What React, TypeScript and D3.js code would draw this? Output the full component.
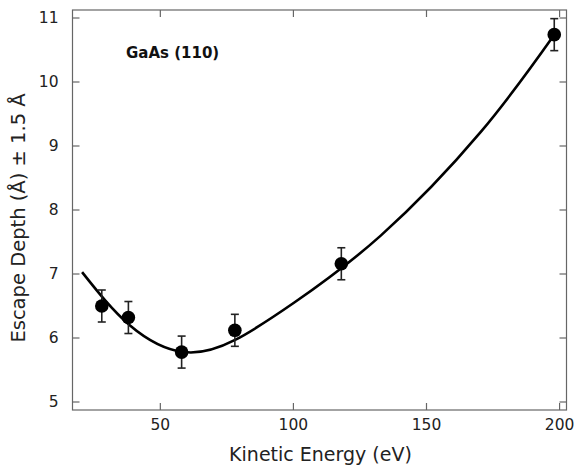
import React from "react";
import * as d3 from "d3";

const energies = [28, 38, 58, 78, 118, 198];
const depths = [6.5, 6.32, 5.78, 6.12, 7.16, 10.74];
const errors = [0.25, 0.25, 0.25, 0.25, 0.25, 0.25];

const fitEnergies = [20.6, 38.5, 58.8, 78.1, 100.2, 132.8, 170.4, 198.2];
const fitDepths = [7.03, 6.2, 5.78, 5.97, 6.55, 7.6, 9.22, 10.75];

const xTicks = [50, 100, 150, 200];
const yTicks = [5, 6, 7, 8, 9, 10, 11];

const W = 581;
const H = 469;
const left = 72.5;
const right = 566.5;
const top = 10;
const bottom = 410;

export default function App() {
  const x = d3.scaleLinear().domain([17, 202.6]).range([left, right]);
  const y = d3.scaleLinear().domain([4.875, 11.125]).range([bottom, top]);
  const line = d3
    .line<number>()
    .x((_, i) => x(fitEnergies[i]))
    .y((d) => y(d))
    .curve(d3.curveNatural);
  const font = "'DejaVu Sans', sans-serif";
  const tick = 7;
  const frame = "#666";
  return (
    <svg width={W} height={H} style={{ position: "absolute", left: 0, top: 0 }}>
      <rect x={0} y={0} width={W} height={H} fill="#fff" />
      <rect x={left} y={top} width={right - left} height={bottom - top} fill="none" stroke={frame} strokeWidth={1.2} />
      {xTicks.map((t) => (
        <g key={"x" + t}>
          <line x1={x(t)} x2={x(t)} y1={bottom} y2={bottom - tick} stroke={frame} strokeWidth={1.2} />
          <line x1={x(t)} x2={x(t)} y1={top} y2={top + tick} stroke={frame} strokeWidth={1.2} />
          <text x={x(t)} y={bottom + 20} textAnchor="middle" fontFamily={font} fontSize={15.5} fill="#222">
            {t}
          </text>
        </g>
      ))}
      {yTicks.map((t) => (
        <g key={"y" + t}>
          <line x1={left} x2={left + tick} y1={y(t)} y2={y(t)} stroke={frame} strokeWidth={1.2} />
          <line x1={right} x2={right - tick} y1={y(t)} y2={y(t)} stroke={frame} strokeWidth={1.2} />
          <text x={left - 14} y={y(t)} dy="0.35em" textAnchor="end" fontFamily={font} fontSize={15.5} fill="#222">
            {t}
          </text>
        </g>
      ))}
      <path d={line(fitDepths) || ""} fill="none" stroke="#000" strokeWidth={2.6} />
      {energies.map((e, i) => (
        <g key={"p" + i}>
          <line x1={x(e)} x2={x(e)} y1={y(depths[i] - errors[i])} y2={y(depths[i] + errors[i])} stroke="#222" strokeWidth={1.6} />
          <line x1={x(e) - 4} x2={x(e) + 4} y1={y(depths[i] - errors[i])} y2={y(depths[i] - errors[i])} stroke="#222" strokeWidth={1.6} />
          <line x1={x(e) - 4} x2={x(e) + 4} y1={y(depths[i] + errors[i])} y2={y(depths[i] + errors[i])} stroke="#222" strokeWidth={1.6} />
          <circle cx={x(e)} cy={y(depths[i])} r={6.8} fill="#000" />
        </g>
      ))}
      <text x={126} y={58} fontFamily={font} fontWeight="bold" fontSize={15} fill="#111">
        GaAs (110)
      </text>
      <text x={(left + right) / 2 + 1} y={461} textAnchor="middle" fontFamily={font} fontSize={19} fill="#222">
        Kinetic Energy (eV)
      </text>
      <text
        transform={`translate(25, ${(top + bottom) / 2 + 8}) rotate(-90)`}
        textAnchor="middle"
        fontFamily={font}
        fontSize={19.5}
        fill="#222"
      >
        Escape Depth (Å) ± 1.5 Å
      </text>
    </svg>
  );
}
